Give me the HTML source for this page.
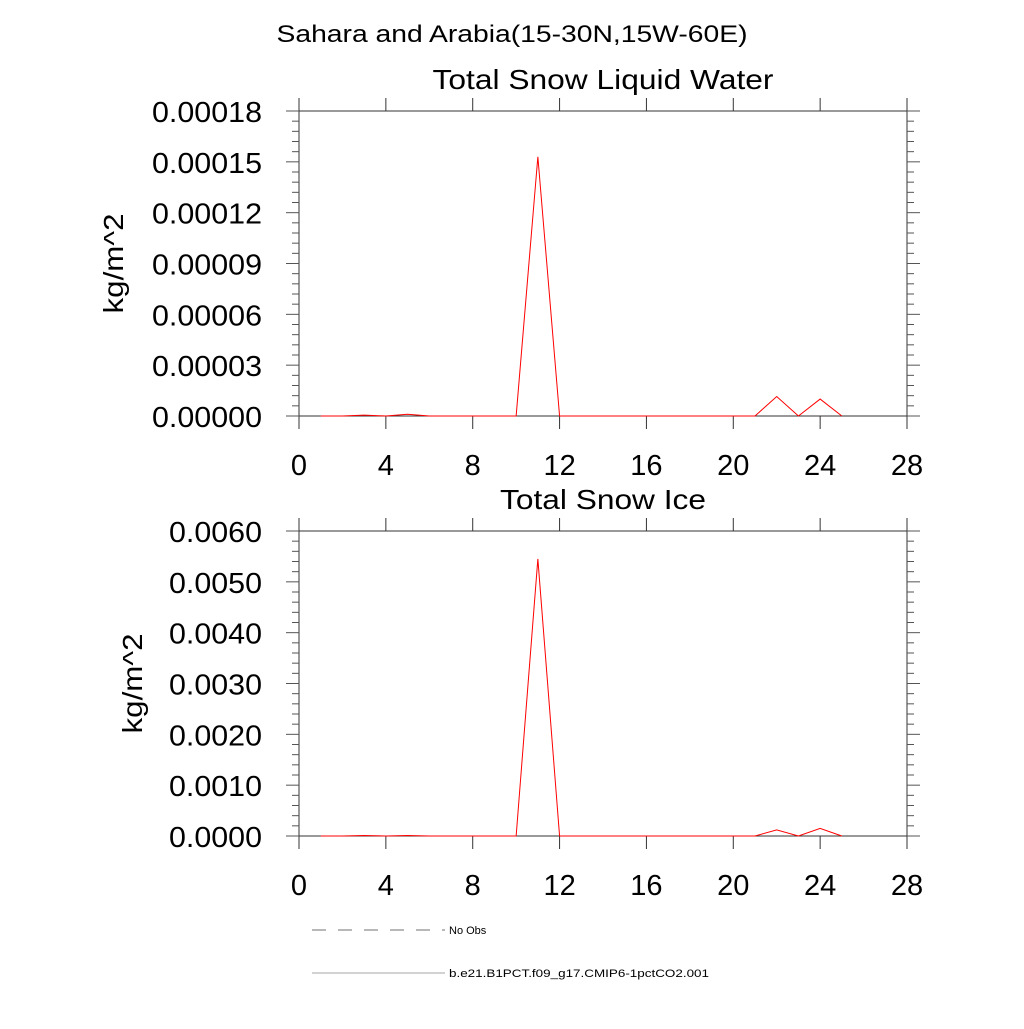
<!DOCTYPE html>
<html><head><meta charset="utf-8"><style>
body{margin:0;background:#fff}
svg{font-family:"Liberation Sans",sans-serif}
</style></head><body>
<svg id="c" width="1024" height="1024" viewBox="0 0 1024 1024">
<text x="512" y="42" font-size="24" text-anchor="middle" textLength="471" lengthAdjust="spacingAndGlyphs">Sahara and Arabia(15-30N,15W-60E)</text>
<g id="p1"></g><g id="p2"></g>
<g>
<line x1="312" y1="930" x2="445" y2="930" stroke="#444" stroke-width="0.8" stroke-dasharray="14,12"/>
<text x="449" y="934" font-size="11">No Obs</text>
<line x1="312" y1="973" x2="445" y2="973" stroke="#888" stroke-width="0.8"/>
<text x="449" y="977" font-size="11" textLength="260" lengthAdjust="spacingAndGlyphs">b.e21.B1PCT.f09_g17.CMIP6-1pctCO2.001</text>
</g>
</svg>
<script>
const xs=[1,2,3,4,5,6,7,8,9,10,11,12,13,14,15,16,17,18,19,20,21,22,23,24,25];
const liquid=[0,0,0.0000005,0,0.000001,0,0,0,0,0,0.000153,0,0,0,0,0,0,0,0,0,0,0.0000115,0,0.00001,0];
const ice=[0,0,0.00001,0,0.00001,0,0,0,0,0,0.00545,0,0,0,0,0,0,0,0,0,0,0.00012,0,0.00015,0];
const xTicks=[0,4,8,12,16,20,24,28];
const liqTicks=["0.00000","0.00003","0.00006","0.00009","0.00012","0.00015","0.00018"];
const iceTicks=["0.0000","0.0010","0.0020","0.0030","0.0040","0.0050","0.0060"];
const NS="http://www.w3.org/2000/svg";
function mk(p,t,a){const e=document.createElementNS(NS,t);for(const k in a)e.setAttribute(k,a[k]);p.appendChild(e);return e;}
function plot(g,top,bot,ymax,ticks,vals,title,titleLen,ytitle,ytx,labLen,minors){
  const L=299,R=907;
  const X=v=>L+(R-L)*v/28, Y=v=>bot-(bot-top)*v/ymax;
  const t=mk(g,'text',{x:603,y:top-22,'font-size':28,'text-anchor':'middle',textLength:titleLen,lengthAdjust:'spacingAndGlyphs'});t.textContent=title;
  
  
  const fr=mk(g,'rect',{x:L,y:top,width:R-L,height:bot-top,fill:'none',stroke:'#333','stroke-width':1});
  
  
  xTicks.forEach(v=>{const x=X(v);
    mk(g,'line',{x1:x,y1:bot,x2:x,y2:bot+13,stroke:'#333'});mk(g,'line',{x1:x,y1:top,x2:x,y2:top-13,stroke:'#333'});
    const e=mk(g,'text',{x:x,y:bot+59,'font-size':29,'text-anchor':'middle'});e.textContent=v;
    
    });
  const n=(ticks.length-1)*minors;
  for(let i=0;i<=n;i++){const y=bot-(bot-top)*i/n,len=i%minors==0?13:7;
    mk(g,'line',{x1:L,y1:y,x2:L-len,y2:y,stroke:'#555'});mk(g,'line',{x1:R,y1:y,x2:R+len,y2:y,stroke:'#555'});}
  ticks.forEach((s,i)=>{const y=bot-(bot-top)*i/(ticks.length-1);const e=mk(g,'text',{x:262,y:y+11,'font-size':29,'text-anchor':'end',textLength:labLen,lengthAdjust:'spacingAndGlyphs'});e.textContent=s;
    
    });
  const cy=(top+bot)/2;
  const yt=mk(g,'text',{x:ytx,y:cy,'font-size':28,'text-anchor':'middle',textLength:100,lengthAdjust:'spacingAndGlyphs',transform:`rotate(-90 ${ytx} ${cy})`});yt.textContent=ytitle;
  
  
  const pl=mk(g,'polyline',{points:xs.map((x,i)=>X(x)+','+Y(vals[i])).join(' '),fill:'none',stroke:'#f00','stroke-width':1});
  
  
}
plot(document.getElementById('p1'),111,416,0.00018,liqTicks,liquid,'Total Snow Liquid Water',341,'kg/m^2',123,110,5);
plot(document.getElementById('p2'),531,836,0.006,iceTicks,ice,'Total Snow Ice',206,'kg/m^2',142,93,5);
</script>
</body></html>
